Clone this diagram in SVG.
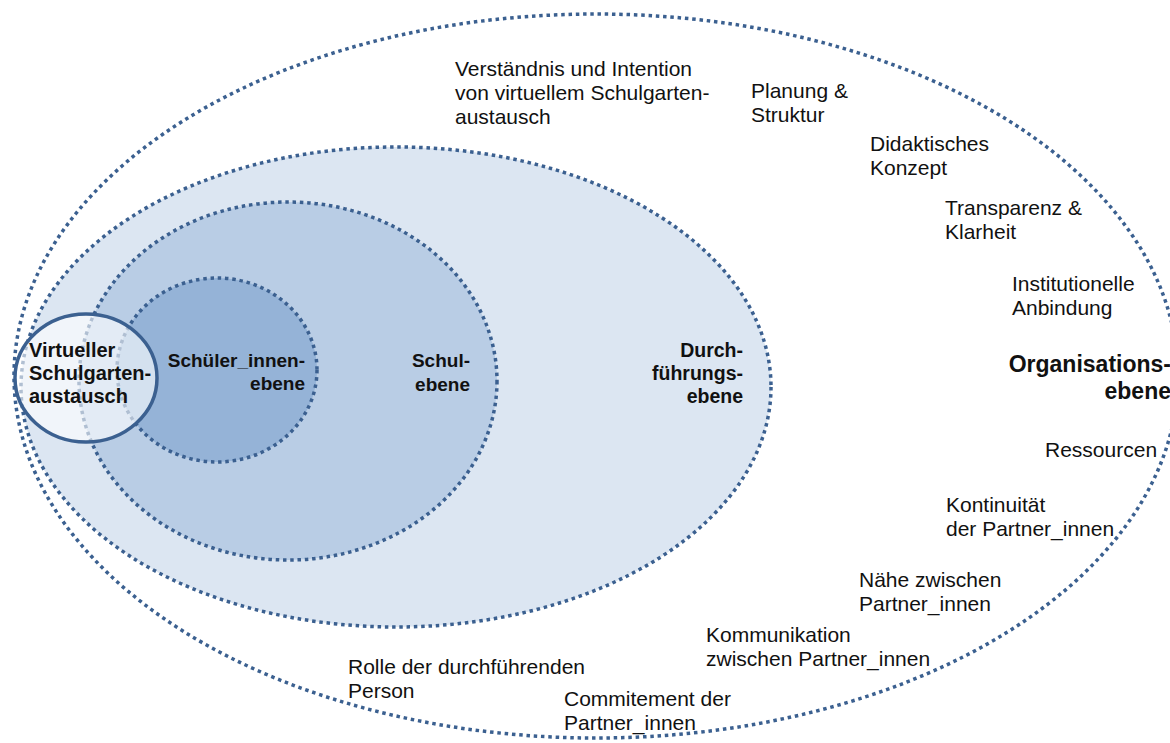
<svg xmlns="http://www.w3.org/2000/svg" width="1170" height="743" viewBox="0 0 1170 743">
<style>
.dot{stroke:#3b6090;stroke-width:3.5;stroke-dasharray:3.5 3.8;}
.t{font-family:"Liberation Sans",Arial,sans-serif;font-size:21px;fill:#111;}
.b{font-family:"Liberation Sans",Arial,sans-serif;font-weight:bold;fill:#111;}
</style>
<rect width="1170" height="743" fill="#ffffff"/>
<g id="organisationsebene">
<ellipse cx="596" cy="376" rx="582" ry="362" fill="none" class="dot"/>
<text class="b" font-size="23" text-anchor="end"><tspan x="1171" y="372">Organisations-</tspan><tspan x="1171" y="399">ebene</tspan></text>
</g>
<g id="durchfuehrungsebene">
<ellipse cx="396" cy="387" rx="375" ry="240" fill="#dce6f2" class="dot"/>
<text class="b" font-size="19.5" text-anchor="end"><tspan x="743" y="357">Durch-</tspan><tspan x="743" y="380">führungs-</tspan><tspan x="743" y="403">ebene</tspan></text>
</g>
<g id="schulebene">
<ellipse cx="288" cy="381" rx="209" ry="179" fill="#b9cde5" class="dot"/>
<text class="b" font-size="19" text-anchor="end"><tspan x="470" y="367">Schul-</tspan><tspan x="470" y="391">ebene</tspan></text>
</g>
<g id="schuelerinnenebene">
<ellipse cx="217" cy="370" rx="100" ry="92" fill="#95b3d7" class="dot"/>
<text class="b" font-size="19" text-anchor="end"><tspan x="305" y="367">Schüler_innen-</tspan><tspan x="305" y="390">ebene</tspan></text>
</g>
<g id="virtueller-schulgartenaustausch">
<ellipse cx="86" cy="378" rx="71" ry="64" fill="#ffffff" fill-opacity="0.6" stroke="#3b6090" stroke-width="3.5"/>
<text class="b" font-size="20"><tspan x="29" y="357">Virtueller</tspan><tspan x="29" y="380">Schulgarten-</tspan><tspan x="29" y="403">austausch</tspan></text>
</g>
<g id="labels">
<text class="t"><tspan x="455" y="76">Verständnis und Intention</tspan><tspan x="455" y="100">von virtuellem Schulgarten-</tspan><tspan x="455" y="124">austausch</tspan></text>
<text class="t"><tspan x="751" y="98">Planung &amp;</tspan><tspan x="751" y="122">Struktur</tspan></text>
<text class="t"><tspan x="870" y="151">Didaktisches</tspan><tspan x="870" y="175">Konzept</tspan></text>
<text class="t"><tspan x="945" y="215">Transparenz &amp;</tspan><tspan x="945" y="239">Klarheit</tspan></text>
<text class="t"><tspan x="1012" y="291">Institutionelle</tspan><tspan x="1012" y="315">Anbindung</tspan></text>
<text class="t"><tspan x="1045" y="457">Ressourcen</tspan></text>
<text class="t"><tspan x="946" y="512">Kontinuität</tspan><tspan x="946" y="536">der Partner_innen</tspan></text>
<text class="t"><tspan x="859" y="587">Nähe zwischen</tspan><tspan x="859" y="611">Partner_innen</tspan></text>
<text class="t"><tspan x="706" y="642">Kommunikation</tspan><tspan x="706" y="666">zwischen Partner_innen</tspan></text>
<text class="t"><tspan x="348" y="674">Rolle der durchführenden</tspan><tspan x="348" y="698">Person</tspan></text>
<text class="t"><tspan x="564" y="706">Commitement der</tspan><tspan x="564" y="730">Partner_innen</tspan></text>
</g>
</svg>
